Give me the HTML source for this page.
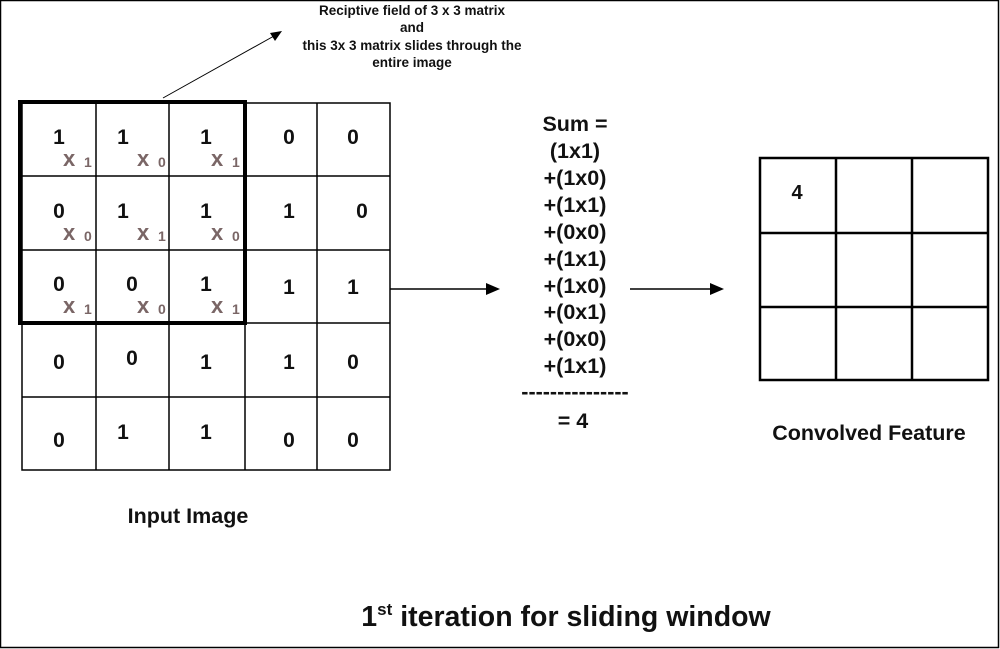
<!DOCTYPE html>
<html><head><style>body{margin:0;background:#fff}svg{display:block}</style></head><body>
<svg width="1000" height="649" xmlns="http://www.w3.org/2000/svg" font-family="Liberation Sans, sans-serif" font-weight="bold">
<rect x="0.5" y="0.5" width="998" height="647" fill="#fff" stroke="#000" stroke-width="1.5"/>
<g stroke="#000" stroke-width="1.5" fill="none">
<rect x="22" y="103" width="368" height="367"/>
<line x1="96" y1="103" x2="96" y2="470"/><line x1="169" y1="103" x2="169" y2="470"/><line x1="245" y1="103" x2="245" y2="470"/><line x1="317" y1="103" x2="317" y2="470"/>
<line x1="22" y1="176" x2="390" y2="176"/><line x1="22" y1="250" x2="390" y2="250"/><line x1="22" y1="323" x2="390" y2="323"/><line x1="22" y1="397" x2="390" y2="397"/>
<rect x="20" y="102" width="225" height="221" stroke-width="4"/>
<rect x="760" y="158" width="228" height="222" stroke-width="2.5"/>
<line x1="836" y1="158" x2="836" y2="380" stroke-width="2.5"/><line x1="912" y1="158" x2="912" y2="380" stroke-width="2.5"/>
<line x1="760" y1="233" x2="988" y2="233" stroke-width="2.5"/><line x1="760" y1="307" x2="988" y2="307" stroke-width="2.5"/>
<line x1="163" y1="98" x2="274" y2="36" stroke-width="1"/>
<line x1="390" y1="289" x2="488" y2="289"/>
<line x1="630" y1="289" x2="712" y2="289"/>
</g>
<polygon points="282,31 270,33 275,41" fill="#000"/>
<polygon points="500,289 486,283 486,295" fill="#000"/>
<polygon points="724,289 710,283 710,295" fill="#000"/>
<g font-size="21" fill="#111" text-anchor="middle">
<text x="59" y="144">1</text><text x="123" y="144">1</text><text x="206" y="144">1</text><text x="289" y="144">0</text><text x="353" y="144">0</text>
<text x="59" y="218">0</text><text x="123" y="218">1</text><text x="206" y="218">1</text><text x="289" y="218">1</text><text x="362" y="218">0</text>
<text x="59" y="291">0</text><text x="132" y="291">0</text><text x="206" y="291">1</text><text x="289" y="294">1</text><text x="353" y="294">1</text>
<text x="59" y="369">0</text><text x="132" y="365">0</text><text x="206" y="369">1</text><text x="289" y="369">1</text><text x="353" y="369">0</text>
<text x="59" y="447">0</text><text x="123" y="439">1</text><text x="206" y="439">1</text><text x="289" y="447">0</text><text x="353" y="447">0</text>
<text x="797" y="199" font-size="20">4</text>
</g>
<g fill="#7a6666" font-size="22">
<text x="63" y="166">x</text><text x="84" y="167" font-size="14">1</text>
<text x="137" y="166">x</text><text x="158" y="167" font-size="14">0</text>
<text x="211" y="166">x</text><text x="232" y="167" font-size="14">1</text>
<text x="63" y="240">x</text><text x="84" y="241" font-size="14">0</text>
<text x="137" y="240">x</text><text x="158" y="241" font-size="14">1</text>
<text x="211" y="240">x</text><text x="232" y="241" font-size="14">0</text>
<text x="63" y="313">x</text><text x="84" y="314" font-size="14">1</text>
<text x="137" y="313">x</text><text x="158" y="314" font-size="14">0</text>
<text x="211" y="313">x</text><text x="232" y="314" font-size="14">1</text>
</g>
<g font-size="13.5" fill="#111" text-anchor="middle">
<text x="412" y="15">Reciptive field of 3 x 3 matrix</text>
<text x="412" y="32">and</text>
<text x="412" y="50">this 3x 3 matrix slides through the</text>
<text x="412" y="67">entire image</text>
</g>
<g font-size="21.5" fill="#111" text-anchor="middle">
<text x="575" y="131">Sum =</text>
<text x="575" y="158">(1x1)</text>
<text x="575" y="185">+(1x0)</text>
<text x="575" y="212">+(1x1)</text>
<text x="575" y="239">+(0x0)</text>
<text x="575" y="266">+(1x1)</text>
<text x="575" y="293">+(1x0)</text>
<text x="575" y="319">+(0x1)</text>
<text x="575" y="346">+(0x0)</text>
<text x="575" y="373">+(1x1)</text>
<text x="575" y="399">---------------</text>
<text x="573" y="428">= 4</text>
<text x="188" y="523">Input Image</text>
<text x="869" y="440">Convolved Feature</text>
</g>
<text x="566" y="626" font-size="28.5" fill="#111" text-anchor="middle">1<tspan font-size="17" dy="-11">st</tspan><tspan dy="11"> iteration for sliding window</tspan></text>
</svg>
</body></html>
